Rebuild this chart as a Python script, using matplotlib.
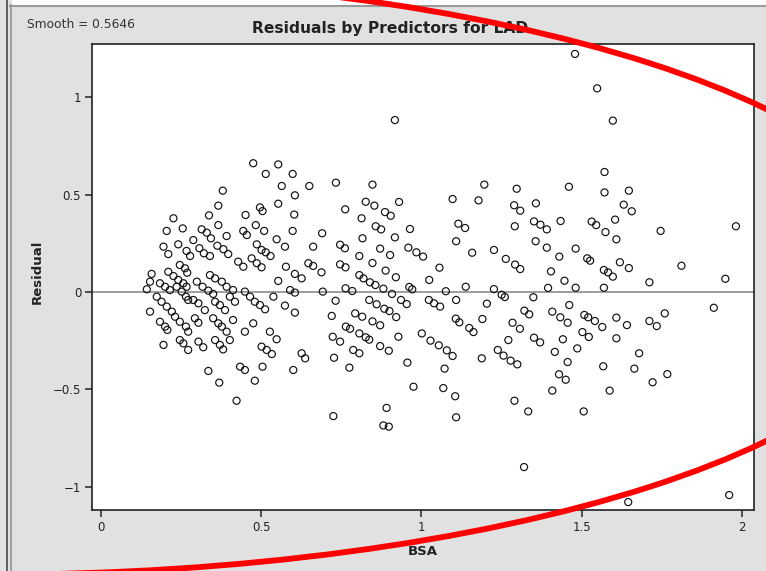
import matplotlib
matplotlib.use("Agg")
import matplotlib.pyplot as plt
from matplotlib.lines import Line2D
from matplotlib.patches import Rectangle, Ellipse

PANEL = "#e1e1e1"
TEXT = "#222222"

# residuals from the LAD fit, grouped by region of the BSA range
bsa_low = [0.475, 0.553, 0.514, 0.598, 0.564, 0.650, 0.380, 0.605, 0.553, 0.366, 0.496, 0.504, 0.337, 0.451,
           0.603, 0.226, 0.366, 0.483, 0.509, 0.255, 0.314, 0.330, 0.343, 0.392, 0.444, 0.455, 0.598, 0.690,
           0.205, 0.548, 0.574, 0.662, 0.195, 0.210, 0.241, 0.267, 0.278, 0.288, 0.307, 0.321, 0.340, 0.363,
           0.382, 0.397, 0.486, 0.501, 0.514, 0.529, 0.428, 0.444, 0.470, 0.486, 0.501, 0.577, 0.605, 0.626,
           0.647, 0.662, 0.688, 0.553, 0.246, 0.262, 0.269, 0.210, 0.226, 0.241, 0.257, 0.267, 0.158, 0.299,
           0.317, 0.335, 0.350, 0.340, 0.356, 0.377, 0.392, 0.412, 0.184, 0.200, 0.215, 0.143, 0.236, 0.252,
           0.265, 0.272, 0.449, 0.465, 0.480, 0.496, 0.512, 0.402, 0.418, 0.538, 0.590, 0.605, 0.574, 0.605,
           0.692, 0.174, 0.189, 0.205, 0.221, 0.288, 0.304, 0.324, 0.356, 0.371, 0.387, 0.153, 0.231, 0.246,
           0.265, 0.272, 0.293, 0.304, 0.350, 0.366, 0.377, 0.392, 0.412, 0.449, 0.527, 0.548, 0.475, 0.184,
           0.200, 0.207, 0.246, 0.257, 0.272, 0.195, 0.304, 0.319, 0.356, 0.371, 0.381, 0.402, 0.501, 0.517,
           0.533, 0.626, 0.637, 0.600, 0.434, 0.449, 0.504, 0.335, 0.480, 0.369, 0.423, 0.153]
res_low = [0.662, 0.656, 0.607, 0.607, 0.545, 0.545, 0.521, 0.497, 0.454, 0.444, 0.435, 0.416, 0.394, 0.396,
           0.398, 0.379, 0.344, 0.344, 0.314, 0.327, 0.322, 0.305, 0.276, 0.288, 0.314, 0.293, 0.314, 0.302,
           0.314, 0.271, 0.233, 0.233, 0.233, 0.195, 0.245, 0.211, 0.185, 0.267, 0.225, 0.199, 0.185, 0.238,
           0.220, 0.195, 0.245, 0.216, 0.204, 0.185, 0.156, 0.130, 0.173, 0.148, 0.127, 0.130, 0.093, 0.070,
           0.148, 0.134, 0.101, 0.057, 0.139, 0.122, 0.099, 0.104, 0.082, 0.062, 0.045, 0.027, 0.093, 0.053,
           0.027, 0.007, -0.010, 0.087, 0.070, 0.053, 0.027, 0.010, 0.045, 0.027, 0.010, 0.014, 0.027, 0.002,
           -0.024, -0.041, 0.002, -0.024, -0.050, -0.067, -0.089, -0.024, -0.050, -0.024, 0.010, -0.003, -0.070, -0.106,
           0.002, -0.024, -0.050, -0.075, -0.101, -0.041, -0.058, -0.093, -0.050, -0.067, -0.093, -0.101, -0.127, -0.153,
           -0.178, -0.204, -0.135, -0.158, -0.135, -0.161, -0.178, -0.204, -0.144, -0.204, -0.204, -0.243, -0.161, -0.153,
           -0.178, -0.195, -0.247, -0.264, -0.298, -0.272, -0.255, -0.284, -0.247, -0.272, -0.295, -0.247, -0.281, -0.298,
           -0.319, -0.315, -0.341, -0.401, -0.384, -0.401, -0.384, -0.406, -0.456, -0.466, -0.559, 0.053]

bsa_mid = [0.733, 0.847, 1.196, 1.297, 1.097, 1.178, 0.930, 0.826, 0.853, 0.762, 0.886, 0.904, 1.357, 1.289,
           1.308, 0.813, 0.857, 0.874, 0.964, 1.115, 1.136, 1.291, 1.351, 1.371, 0.816, 0.917, 1.108, 1.356,
           0.746, 0.761, 0.871, 0.959, 0.984, 1.005, 0.902, 0.806, 1.226, 1.158, 1.263, 1.292, 1.308, 0.746,
           0.763, 0.847, 0.888, 0.920, 1.056, 1.024, 0.806, 0.819, 0.839, 0.856, 0.763, 0.784, 0.881, 0.908,
           0.936, 0.954, 0.962, 0.971, 1.076, 1.138, 1.226, 1.250, 1.260, 1.349, 0.732, 0.837, 0.860, 0.884,
           0.900, 1.023, 1.039, 1.058, 1.108, 1.204, 1.321, 1.336, 0.720, 0.793, 0.815, 0.921, 1.107, 1.118,
           1.190, 0.847, 0.871, 1.284, 1.307, 1.149, 1.162, 0.764, 0.777, 0.723, 0.746, 0.806, 0.826, 0.837,
           0.928, 1.001, 1.028, 1.054, 1.079, 1.097, 1.271, 1.351, 1.370, 0.871, 0.898, 0.787, 0.806, 1.238,
           1.256, 1.278, 1.299, 0.727, 0.956, 1.072, 1.188, 0.775, 0.975, 1.068, 1.105, 1.290, 1.333, 0.891,
           0.725, 1.108, 0.881, 0.898, 0.917, 1.320]
res_mid = [0.562, 0.552, 0.552, 0.531, 0.478, 0.471, 0.463, 0.464, 0.444, 0.425, 0.411, 0.392, 0.456, 0.446,
           0.418, 0.379, 0.338, 0.322, 0.324, 0.351, 0.329, 0.338, 0.363, 0.346, 0.276, 0.281, 0.261, 0.261,
           0.243, 0.225, 0.223, 0.228, 0.204, 0.182, 0.190, 0.185, 0.216, 0.202, 0.170, 0.141, 0.118, 0.142,
           0.127, 0.149, 0.110, 0.076, 0.125, 0.062, 0.087, 0.070, 0.050, 0.036, 0.019, 0.005, 0.017, -0.010,
           -0.041, -0.062, 0.026, 0.014, 0.004, 0.027, 0.015, -0.014, -0.026, -0.027, -0.045, -0.041, -0.063, -0.086,
           -0.098, -0.041, -0.058, -0.075, -0.041, -0.060, -0.096, -0.115, -0.123, -0.110, -0.127, -0.129, -0.137, -0.156,
           -0.139, -0.151, -0.171, -0.158, -0.189, -0.185, -0.206, -0.178, -0.189, -0.230, -0.255, -0.213, -0.233, -0.245,
           -0.230, -0.213, -0.250, -0.274, -0.300, -0.329, -0.247, -0.235, -0.259, -0.278, -0.302, -0.298, -0.315, -0.298,
           -0.327, -0.353, -0.372, -0.338, -0.363, -0.394, -0.341, -0.389, -0.487, -0.494, -0.536, -0.559, -0.614, -0.596,
           -0.638, -0.644, -0.686, -0.692, 0.884, -0.900]

bsa_high = [1.479, 1.548, 1.597, 1.571, 1.460, 1.571, 1.647, 1.631, 1.656, 1.604, 1.531, 1.545, 1.434, 1.391,
            1.574, 1.746, 1.981, 1.608, 1.391, 1.481, 1.430, 1.517, 1.526, 1.619, 1.647, 1.811, 1.404, 1.569,
            1.582, 1.597, 1.446, 1.711, 1.948, 1.481, 1.569, 1.395, 1.461, 1.408, 1.433, 1.456, 1.508, 1.520,
            1.541, 1.564, 1.608, 1.641, 1.711, 1.734, 1.759, 1.912, 1.441, 1.502, 1.522, 1.608, 1.486, 1.416,
            1.679, 1.456, 1.567, 1.664, 1.767, 1.429, 1.450, 1.721, 1.408, 1.587, 1.506, 1.645, 1.960]
res_high = [1.224, 1.047, 0.881, 0.617, 0.541, 0.512, 0.521, 0.449, 0.415, 0.372, 0.362, 0.344, 0.365, 0.322,
            0.308, 0.314, 0.338, 0.271, 0.228, 0.223, 0.182, 0.173, 0.161, 0.153, 0.123, 0.135, 0.106, 0.113,
            0.101, 0.079, 0.058, 0.050, 0.068, 0.022, 0.022, 0.021, -0.067, -0.101, -0.130, -0.158, -0.118, -0.130,
            -0.149, -0.180, -0.132, -0.170, -0.149, -0.175, -0.110, -0.081, -0.243, -0.206, -0.231, -0.238, -0.290, -0.308,
            -0.315, -0.360, -0.382, -0.394, -0.422, -0.423, -0.451, -0.464, -0.507, -0.507, -0.614, -1.080, -1.044]

bsa = bsa_low + bsa_mid + bsa_high
resid = res_low + res_mid + res_high

x_ticks = [0, 0.5, 1, 1.5, 2]
x_labels = ["0", "0.5", "1", "1.5", "2"]
y_ticks = [-1, -0.5, 0, 0.5, 1]
y_labels = ["\u22121", "\u22120.5", "0", "0.5", "1"]

W, H = 766, 571
fig = plt.figure(figsize=(W / 100, H / 100), dpi=100, facecolor=PANEL)

# window chrome: white strip on top, double rule on the left
fig.add_artist(Rectangle((12 / W, 1 - 5 / H), 1, 5 / H, transform=fig.transFigure,
                         facecolor="white", edgecolor="none"))
fig.add_artist(Line2D([10 / W, 1], [1 - 5.5 / H] * 2, transform=fig.transFigure,
                      color="#9a9a9a", lw=1.5))
fig.add_artist(Line2D([6.5 / W] * 2, [0, 1], transform=fig.transFigure, color="#555555", lw=1.3))
fig.add_artist(Line2D([11 / W] * 2, [0, 1 - 5 / H], transform=fig.transFigure, color="#9a9a9a", lw=1.3))

ax = fig.add_axes([92.3 / W, 1 - 510 / H, (754 - 92.3) / W, (510 - 44.3) / H])
ax.set_facecolor("white")
ax.axhline(0, color="#8c8c8c", lw=1.2, zorder=1)
ax.scatter(bsa, resid, s=26, facecolors="none", edgecolors="#111111", linewidths=0.85, zorder=2)

ax.set_xlim(-0.0271, 2.0374)
ax.set_ylim(-1.1208, 1.2735)
ax.set_xticks(x_ticks)
ax.set_xticklabels(x_labels, fontsize=8.5, color=TEXT)
ax.set_yticks(y_ticks)
ax.set_yticklabels(y_labels, fontsize=8.5, color=TEXT)
ax.tick_params(direction="out", length=5, width=1.2, color="#333333", pad=3)
for sp in ax.spines.values():
    sp.set_color("#222222")
    sp.set_linewidth(1.2)

ax.set_xlabel("BSA", fontsize=9.5, fontweight="bold", color=TEXT, labelpad=8)
fig.text(37 / W, 1 - 272 / H, "Residual", rotation=90, ha="center", va="center",
         fontsize=9.5, fontweight="bold", color=TEXT)

fig.text(390 / W, 1 - 28 / H, "Residuals by Predictors for LAD", ha="center", va="center",
         fontsize=11.2, fontweight="bold", color=TEXT)
fig.text(27 / W, 1 - 25 / H, "Smooth = 0.5646", ha="left", va="center", fontsize=8.8, color="#333333")

# red ring drawn over the whole panel
fig.add_artist(Ellipse((-9.3 / W, 1 - 275 / H), 2 * 931.6 / W, 2 * 299.7 / H,
                       transform=fig.transFigure, fill=False, edgecolor="#ff0000", lw=4.2,
                       clip_on=False, zorder=10))

fig.savefig("out.png", dpi=100, facecolor=PANEL)
